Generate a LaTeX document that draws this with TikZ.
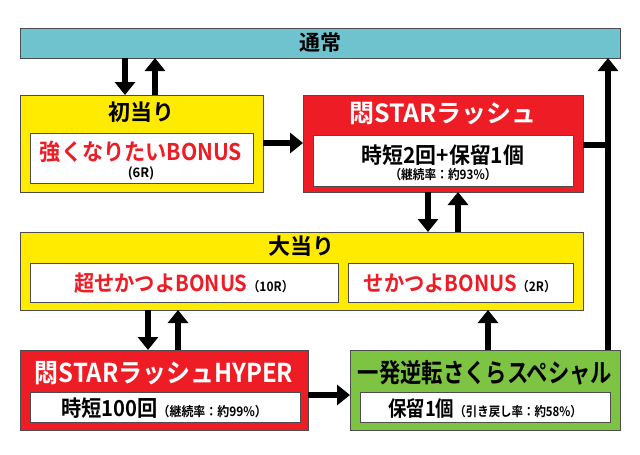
\documentclass[tikz,border=0pt]{standalone}
\usepackage{fontspec}
\usepackage{graphicx}
\newfontfamily\jp{Noto Sans CJK JP Bold}
\usetikzlibrary{arrows.meta}
\definecolor{teal1}{HTML}{6FC3CE}
\definecolor{yel}{HTML}{FFEB00}
\definecolor{rd}{HTML}{EE1C25}
\definecolor{grn}{HTML}{7DC443}
\newcommand\fs[1]{\fontsize{#1}{#1}\selectfont}
\begin{document}
\begin{tikzpicture}[x=1pt,y=-1pt,
 box/.style={draw=black!70,line width=1pt},
 inner/.style={draw=black!70,fill=white,line width=0.8pt},
 con/.style={line width=6pt,-{Triangle[length=13pt,width=20pt]}},
 ln/.style={line width=6pt},
 font=\jp, inner sep=0pt]
\useasboundingbox (0,0) rectangle (640,455);
\fill[white] (0,0) rectangle (640,455);
\draw[box,fill=teal1] (20,28) rectangle (620,58);
\node (tsu) at (320,43) {\fs{21}通常};
% shoatari
\draw[box,fill=yel] (20,95) rectangle (263,192);
\node (sho) at (141,112) {\fs{22}初当り};
\draw[inner] (30,133) rectangle (253,183);
\node[text=rd] (bon6) at (141,152) {\scalebox{0.92}[1]{\fs{23}強くなりたいBONUS}};
\node (r6) at (141,173) {\fs{13}(6R)};
% star
\draw[box,fill=rd] (303,95) rectangle (583,192);
\node[text=white] (star) at (443,114) {\fs{25}悶STARラッシュ};
\draw[inner] (313,135) rectangle (573,186);
\node (st1) at (443,155) {\scalebox{0.95}[1]{\fs{22}時短2回+保留1個}};
\node (st2) at (443,175) {\scalebox{0.9}[1]{\fs{13}（継続率：約93\%）}};
% big
\draw[box,fill=yel] (20,232) rectangle (583,310);
\node (oo) at (301,246) {\fs{22}大当り};
\draw[inner] (30,263) rectangle (338,302);
\draw[inner] (348,263) rectangle (573,302);
\node[text=rd] (b10) at (184,283) {\scalebox{0.92}[1]{\fs{22}超せかつよBONUS{\fs{13}\color{black}（10R）}}};
\node[text=rd] (b2) at (460,283) {\scalebox{0.92}[1]{\fs{22}せかつよBONUS{\fs{13}\color{black}（2R）}}};
% hyper
\draw[box,fill=rd] (20,350) rectangle (308,430);
\node[text=white] (hy) at (164,373) {\scalebox{0.92}[1]{\fs{26}悶STARラッシュHYPER}};
\draw[inner] (30,392) rectangle (300,422);
\node (hy2) at (164,408) {\scalebox{0.92}[1]{\fs{22}時短100回{\fs{13}（継続率：約99\%）}}};
% green
\draw[box,fill=grn] (350,350) rectangle (620,430);
\node (gr) at (485,373) {\scalebox{0.82}[1]{\fs{26}一発逆転さくらスペシャル}};
\draw[inner] (360,392) rectangle (610,422);
\node (gr2) at (485,408) {\scalebox{0.88}[1]{\fs{21}保留1個{\fs{13}（引き戻し率：約58\%）}}};
% arrows
\draw[con] (125,58) -- (125,95);
\draw[con] (155,95) -- (155,58);
\draw[con] (263,143) -- (303,143);
\draw[con] (428,192) -- (428,232);
\draw[con] (458,232) -- (458,192);
\draw[con] (148,310) -- (148,350);
\draw[con] (178,350) -- (178,310);
\draw[con] (308,395) -- (350,395);
\draw[con] (488,350) -- (488,310);
\draw[con] (608,350) -- (608,58);
\draw[ln] (583,145) -- (611,145);
\end{tikzpicture}
\end{document}
